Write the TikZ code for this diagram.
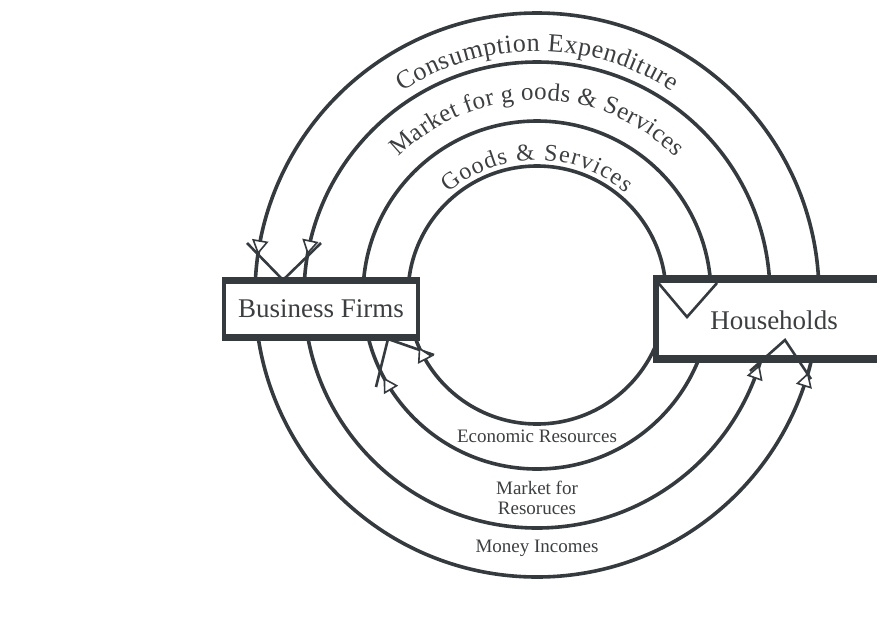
\documentclass[tikz,border=0pt]{standalone}
\usepackage{fontspec}
\setmainfont{Liberation Serif}
\usetikzlibrary{calc,decorations.text}
\definecolor{ink}{RGB}{52,58,62}
\definecolor{txt}{RGB}{60,62,64}
\begin{document}
\begin{tikzpicture}[x=1pt,y=1pt,
  ring/.style={draw=ink,line width=3.6pt},
  chev/.style={draw=ink,line width=2.6pt,line join=miter},
  ahead/.pic={\draw[ink,line width=1.6pt,fill=white,line join=miter] (6,0) -- (-6,7) -- (-6,-7) -- cycle;},
  lbl/.style={text=txt,font=\fontsize{19}{20}\selectfont,inner sep=0pt,align=center},
  boxtxt/.style={text=txt,font=\fontsize{27}{30}\selectfont,inner sep=0pt},
]
\useasboundingbox (0,0) rectangle (877,-619);
\coordinate (C) at (537,-295);
\foreach \r in {282,233,174,129} \draw[ring] (C) circle[radius=\r pt];

% curved labels
\path[decorate,decoration={text along path,text color=txt,text align={fit to path},
   text={|\fontsize{26}{26}\selectfont|Consumption Expenditure}}]
   ($(C)+(123.5:244pt)$) arc[start angle=123.5,end angle=56.5,radius=244pt];
\path[decorate,decoration={text along path,text color=txt,text align={fit to path},
   text={|\fontsize{25}{25}\selectfont|Market for g oods {\&} Services}}]
   ($(C)+(135:195pt)$) arc[start angle=135,end angle=45,radius=195pt];
\path[decorate,decoration={text along path,text color=txt,text align={fit to path},
   text={|\fontsize{24}{24}\selectfont|Goods {\&} Services}}]
   ($(C)+(131:135pt)$) arc[start angle=131,end angle=49,radius=135pt];

% Business Firms box
\node[fill=white,minimum width=198pt,minimum height=64pt,boxtxt] (bf) at (321,-309) {Business Firms};
\draw[ink,line width=7pt] (222,-280.5) -- (420,-280.5);
\draw[ink,line width=7pt] (222,-337.5) -- (420,-337.5);
\draw[ink,line width=4pt] (224,-277) -- (224,-341);
\draw[ink,line width=4pt] (418,-277) -- (418,-341);

% Households box
\fill[white] (653,-275) rectangle (877,-363);
\node[boxtxt] (hh) at (774,-320) {Households};
\draw[ink,line width=8pt] (653,-279) -- (877,-279);
\draw[ink,line width=8pt] (653,-359) -- (877,-359);
\draw[ink,line width=6pt] (656,-275) -- (656,-363);

% chevrons
\draw[chev] (247,-243) -- (283,-280) -- (321,-243);
\draw[chev] (376,-387) -- (388,-339) -- (434,-355);
\draw[chev] (655,-279) -- (687,-317) -- (717,-283);
\draw[chev] (750,-371) -- (785,-340) -- (811,-379);

% arrowheads
\pic[rotate=260.2] at ($(C)+(170.2:282pt)$) {ahead};
\pic[rotate=258.1] at ($(C)+(168.1:233pt)$) {ahead};
\pic[rotate=120.8] at ($(C)+(210.8:174pt)$) {ahead};
\pic[rotate=117.2] at ($(C)+(207.2:129pt)$) {ahead};
\pic[rotate=70.7] at ($(C)+(340.7:233pt)$) {ahead};
\pic[rotate=72.5] at ($(C)+(342.5:282pt)$) {ahead};

% bottom labels
\node[lbl] (er) at (537,-436) {Economic Resources};
\node[lbl] (mr) at (537,-498) {Market for\\Resoruces};
\node[lbl] (mi) at (537,-548) {Money Incomes};
\end{tikzpicture}
\end{document}
